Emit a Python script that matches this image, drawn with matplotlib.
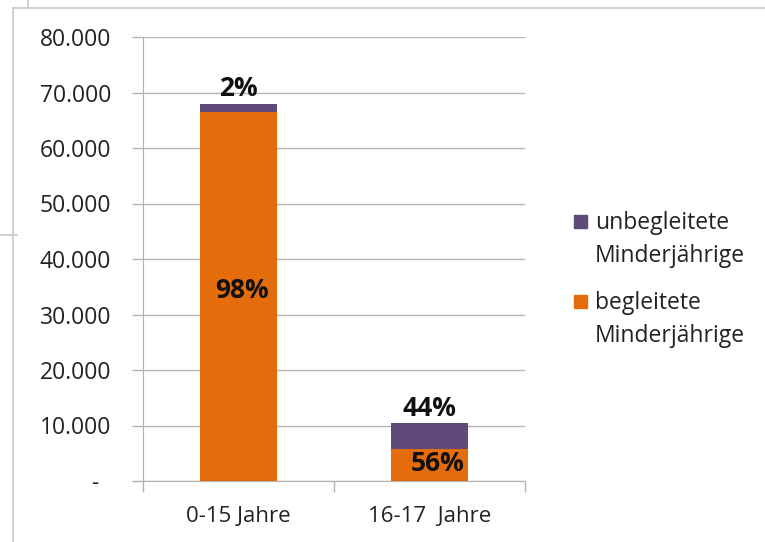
import matplotlib
matplotlib.use("Agg")
import matplotlib.pyplot as plt
from matplotlib.lines import Line2D
from matplotlib.patches import Rectangle
from matplotlib.transforms import ScaledTranslation
from matplotlib.ticker import FuncFormatter, FixedLocator

categories = ["0-15 Jahre", "16-17  Jahre"]
begleitete = [66500, 5800]
unbegleitete = [1400, 4600]
series_names = ["unbegleitete\nMinderjährige", "begleitete\nMinderjährige"]
yticks = [0, 10000, 20000, 30000, 40000, 50000, 60000, 70000, 80000]

ORANGE = "#E46C0A"
PURPLE = "#604A7B"
GRID = "#b3b3b3"

plt.rcParams['font.family'] = ['Open Sans', 'DejaVu Sans']

fig = plt.figure(figsize=(7.65, 5.42), dpi=100)
ax = fig.add_axes([143/765, 1-481/542, (525-143)/765, (481-37)/542])

x = list(range(len(categories)))
w = 0.40
ax.bar(x, begleitete, width=w, color=ORANGE, label=series_names[1], zorder=3)
ax.bar(x, unbegleitete, width=w, bottom=begleitete, color=PURPLE,
       label=series_names[0], zorder=3)

ax.set_xlim(-0.5, len(categories) - 0.5)
ax.set_ylim(0, 80000)
ax.set_yticks(yticks)
ax.yaxis.set_major_formatter(FuncFormatter(
    lambda v, p: "-" if v == 0 else f"{int(v):,}".replace(",", ".")))
ax.grid(axis="y", color=GRID, linewidth=1.0, zorder=0)
ax.set_xticks(x)
ax.set_xticklabels(categories)
ax.xaxis.set_minor_locator(FixedLocator([-0.5, 0.5, 1.5]))
ax.tick_params(axis="x", which="major", length=0, pad=18, labelsize=16, colors="#222222")
ax.tick_params(axis="x", which="minor", length=8, color=GRID, width=1.0)
ax.tick_params(axis="y", length=8, color=GRID, width=1.0, pad=15, labelsize=16.5, labelcolor="#222222")
for s in ["top", "right"]:
    ax.spines[s].set_visible(False)
ax.spines["left"].set_color(GRID)
ax.spines["bottom"].set_color(GRID)

# the "-" zero label sits further left (accounting format)
zero_lab = ax.yaxis.get_major_ticks()[0].label1
zero_lab.set_transform(zero_lab.get_transform() + ScaledTranslation(-0.13, 0, fig.dpi_scale_trans))

# percentage labels
for i in x:
    tot = begleitete[i] + unbegleitete[i]
    pu = round(100 * unbegleitete[i] / tot)
    pb = round(100 * begleitete[i] / tot)
    ax.text(i, tot + 300, f"{pu}%", ha="center", va="bottom",
            fontsize=19, fontweight="bold", color="#111111", zorder=5)
    if begleitete[i] > 20000:
        ax.text(i + 0.02, begleitete[i] / 2 + 1100, f"{pb}%", ha="center", va="center",
                fontsize=19, fontweight="bold", color="#111111", zorder=5)
    else:
        ax.text(i + 0.04, begleitete[i] / 2 + 200, f"{pb}%", ha="center", va="center",
                fontsize=19, fontweight="bold", color="#111111", zorder=5)

# legend (manual, marker aligned with first text line as in the reference)
legend_items = [(series_names[0], PURPLE, 215), (series_names[1], ORANGE, 295)]
for name, col, ytop in legend_items:
    fig.add_artist(Rectangle((574/765, 1-(ytop+13)/542), 13/765, 13/542,
                             transform=fig.transFigure, color=col))
    fig.text(595/765, 1-(ytop-4)/542, name, ha="left", va="top",
             fontsize=16.5, color="#222222", linespacing=1.5)

# screenshot frame lines
fc = "#c8c8c8"
fig.add_artist(Line2D([13/765, 13/765], [0, 1-8/542], color=fc, lw=1.2, transform=fig.transFigure))
fig.add_artist(Line2D([13/765, 1], [1-8/542, 1-8/542], color=fc, lw=1.2, transform=fig.transFigure))
fig.add_artist(Line2D([28/765, 28/765], [1-8/542, 1], color=fc, lw=1.2, transform=fig.transFigure))
fig.add_artist(Line2D([0, 17/765], [1-235/542, 1-235/542], color=fc, lw=1.2, transform=fig.transFigure))

fig.savefig("out.png", dpi=100)
